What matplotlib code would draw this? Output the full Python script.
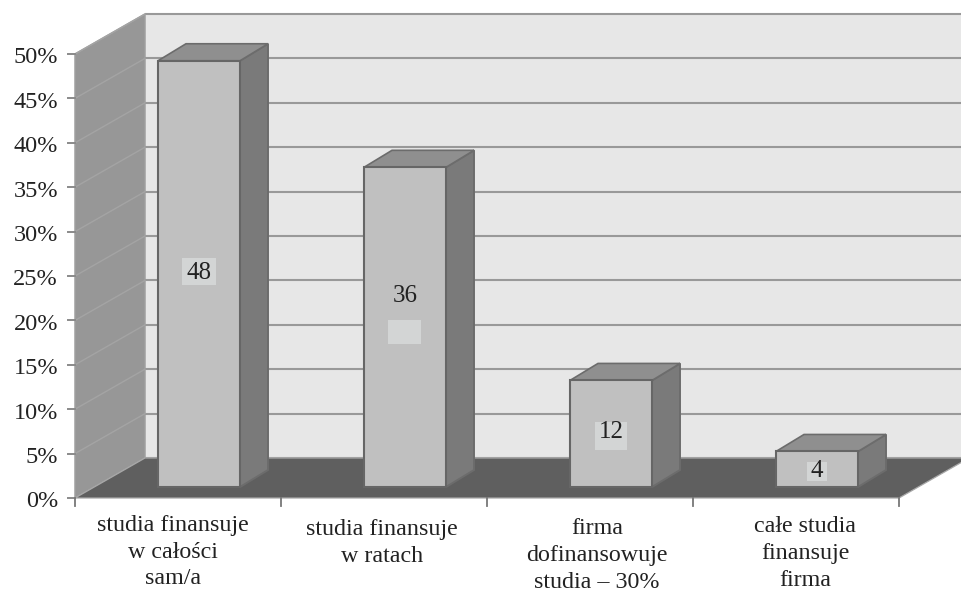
import matplotlib
matplotlib.use('Agg')
import matplotlib.pyplot as plt
from matplotlib.patches import Polygon, Rectangle

# chart values
categories = ['studia finansuje\nw całości\nsam/a', 'studia finansuje\nw ratach',
              'firma\ndofinansowuje\nstudia – 30%', 'całe studia\nfinansuje\nfirma']
values = [48, 36, 12, 4]
y_ticks = [0, 5, 10, 15, 20, 25, 30, 35, 40, 45, 50]

WIDTH, HEIGHT = 962, 592
X0, Y0 = 75, 498          # pixel position of the axes origin
CAT_W = 206.0             # pixels per category
PCT_H = 8.88              # pixels per percent
DEPTH_X = 70 / CAT_W      # floor depth in category units
DEPTH_Y = 40 / PCT_H      # floor depth in percent units
BAR_W = 82 / CAT_W
BAR_DX = 28 / CAT_W       # bar depth
BAR_DY = 17 / PCT_H
BAR_SHIFT_X = 21 / CAT_W  # bars stand in from the front of the floor
BAR_SHIFT_Y = 11 / PCT_H
Y_TOP = 50

# value label boxes and texts, pixels above/below the middle of each bar
box_dy = [2, -5, -2, -2]
text_dy = [3, 34, 4, 1]
box_size = [(34, 27), (33, 24), (32, 28), (20, 19)]

plt.rcParams['font.family'] = ['Liberation Serif', 'DejaVu Serif']

fig = plt.figure(figsize=(WIDTH / 100, HEIGHT / 100), dpi=100, facecolor='white')
ax = fig.add_axes([0, 0, 1, 1])
ax.set_xlim(-X0 / CAT_W, (WIDTH - X0) / CAT_W)
ax.set_ylim(-(HEIGHT - Y0) / PCT_H, Y0 / PCT_H)
ax.axis('off')

x_end = len(categories)
x_far = ax.get_xlim()[1]

# back wall, side wall, floor
ax.add_patch(Rectangle((DEPTH_X, DEPTH_Y), x_far - DEPTH_X, Y_TOP, fc='#e7e7e7', ec='none', zorder=1))
ax.add_patch(Polygon([(0, 0), (DEPTH_X, DEPTH_Y), (DEPTH_X, Y_TOP + DEPTH_Y), (0, Y_TOP)],
                     fc='#979797', ec='#a0a0a0', lw=1.1, zorder=1))
ax.add_patch(Polygon([(0, 0), (DEPTH_X, DEPTH_Y), (x_end + DEPTH_X, DEPTH_Y), (x_end, 0)],
                     fc='#5f5f5f', ec='#a8a8a8', lw=0.9, zorder=2))

# gridlines along both walls
for t in y_ticks:
    ax.plot([DEPTH_X, x_far], [t + DEPTH_Y, t + DEPTH_Y], color='#999999', lw=1.5, zorder=1.5,
            solid_capstyle='butt')
    if t > 0:
        ax.plot([0, DEPTH_X], [t, t + DEPTH_Y], color='#a4a4a4', lw=1.0, zorder=1.5)
    ax.plot([-7 / CAT_W, 0], [t, t], color='#8a8a8a', lw=1.4, zorder=3)
    ax.text(-17 / CAT_W, t - 0.45, '%d%%' % t, ha='right', va='center', fontsize=17.5, color='#222222')

# category ticks
for i in range(len(categories) + 1):
    ax.plot([i, i], [0, -8 / PCT_H], color='#777777', lw=1.3, zorder=3)

# bars
for i, v in enumerate(values):
    left = i + 0.5 + BAR_SHIFT_X - BAR_W / 2
    right = left + BAR_W
    base = BAR_SHIFT_Y
    top = base + v
    edge = '#666666'
    ax.add_patch(Polygon([(right, base), (right + BAR_DX, base + BAR_DY),
                          (right + BAR_DX, top + BAR_DY), (right, top)],
                         fc='#7a7a7a', ec='#6c6c6c', lw=1.4, zorder=4))
    ax.add_patch(Polygon([(left, top), (left + BAR_DX, top + BAR_DY),
                          (right + BAR_DX, top + BAR_DY), (right, top)],
                         fc='#8f8f8f', ec='#6c6c6c', lw=1.2, zorder=4))
    ax.add_patch(Rectangle((left, base), BAR_W, v, fc='#c0c0c0', ec=edge, lw=1.5, zorder=5))

    # value label on a pale box near the bar's middle
    xc = i + 0.5 + BAR_SHIFT_X
    yc = base + v / 2
    bw, bh = box_size[i]
    by = yc + box_dy[i] / PCT_H
    ax.add_patch(Rectangle((xc - bw / CAT_W / 2, by - bh / PCT_H / 2), bw / CAT_W, bh / PCT_H,
                           fc='#d3d5d5', ec='none', zorder=6))
    ax.text(xc, yc + (text_dy[i] - 2.4) / PCT_H, str(v), ha='center', va='center', fontsize=18,
            color='#222222', zorder=7)

# category labels, nudged sideways and down individually
label_dx = [-5, -2, 7, 9]
label_top = [-16.5, -21.5, -20.5, -17.5]
for i, name in enumerate(categories):
    ax.text(i + 0.5 + label_dx[i] / CAT_W, label_top[i] / PCT_H, name, ha='center', va='top',
            fontsize=17.3, color='#222222', linespacing=1.375)

fig.savefig('out.png', dpi=100)
